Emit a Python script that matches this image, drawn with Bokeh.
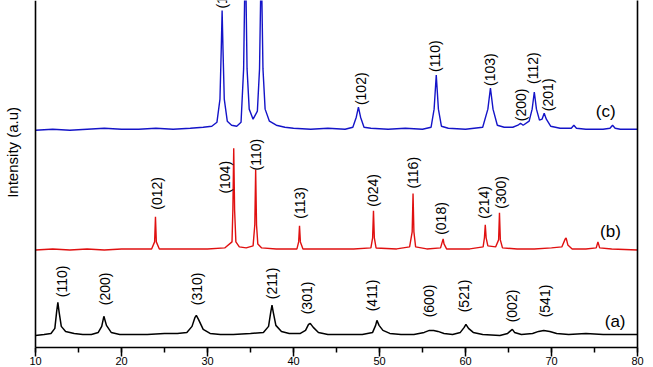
from math import pi
from bokeh.plotting import figure
from bokeh.models import (Range1d, LinearAxis, FixedTicker, SingleIntervalTicker,
                          Label, Span, ColumnDataSource, Grid)
from bokeh.core.properties import value
from bokeh.embed import file_html
from bokeh.resources import INLINE

# ---------------- data (2θ in degrees, intensity in a.u. with stacking offset) -------------
# (c) ZnO - blue
c_two_theta = [10, 12, 14, 16, 18, 20, 22, 24, 26, 28, 29.5, 30.5, 31.1, 31.45, 31.6, 31.7, 31.8, 31.95,
               32.3, 32.8, 33.4, 33.9, 34.2, 34.4, 34.6, 34.85, 35.3, 35.8, 36.05, 36.25, 36.45, 36.7,
               37.2, 38, 39, 40, 42, 44, 46, 46.9, 47.3, 47.55, 47.8, 48.2, 49, 51, 53, 55, 56.0, 56.35,
               56.6, 56.85, 57.2, 58, 60, 62.0, 62.6, 62.9, 63.2, 63.7, 64.5, 65.5, 66.1, 66.4, 66.7,
               67.4, 67.75, 68.0, 68.25, 68.6, 68.9, 69.15, 69.4, 69.9, 71, 72.3, 72.6, 72.9, 74, 76,
               76.8, 77.1, 77.4, 78, 80]
c_intensity = [219, 220, 219, 220, 221, 220, 220, 221, 220, 221, 222, 223, 227, 250, 300, 338, 300, 250,
               228, 224, 223, 227, 280, 400, 280, 240, 230, 238, 280, 390, 280, 240,
               228, 224, 222, 221, 220, 221, 220, 222, 232, 242, 232, 222, 221, 220, 221, 220, 222, 240,
               274, 240, 223, 221, 220, 222, 240, 261, 240, 224, 222, 222, 224, 226, 224,
               228, 240, 257, 240, 229, 230, 236, 230, 223, 221, 221, 224, 221, 220, 220,
               221, 224, 221, 220, 220]

# (b) α-Fe2O3 - red
b_two_theta = [10, 12, 14, 16, 18, 20, 22, 23.5, 23.85, 23.95, 24.05, 24.4, 27, 30, 32.0, 32.85, 32.95,
               33.05, 33.15, 33.3, 33.7, 34.5, 35.3, 35.5, 35.6, 35.7, 35.85, 36.3, 38, 40.4, 40.6,
               40.7, 40.8, 41.1, 44, 47, 49.0, 49.2, 49.3, 49.4, 49.6, 52, 53.5, 53.8, 53.9, 54.0,
               54.2, 55.5, 57.1, 57.3, 57.4, 57.5, 57.8, 60.5, 62.05, 62.2, 62.3, 62.4, 62.6, 63.5,
               63.85, 63.95, 64.05, 64.3, 66, 68, 70, 71.2, 71.6, 71.7, 71.9, 72.4, 74, 75.2, 75.4,
               75.6, 77, 80]
b_intensity = [100, 101, 100, 101, 100, 101, 101, 101, 108, 133, 108, 101, 101, 101, 102, 108, 140,
               201, 140, 108, 103, 102, 104, 125, 180, 125, 106, 102, 101, 101, 108,
               124, 108, 101, 101, 101, 102, 112, 139, 112, 102, 101, 103, 118, 156, 118,
               103, 101, 102, 108, 111, 106, 101, 101, 103, 112, 125, 112, 104, 103,
               110, 137, 110, 102, 101, 101, 102, 103, 111, 112, 105, 101, 101, 102, 108,
               102, 101, 100]

# (a) α-MnO2 - black
a_two_theta = [10, 11, 11.8, 12.25, 12.45, 12.6, 12.75, 13.0, 13.5, 14.5, 15.5, 16.5, 17.3, 17.7, 17.95,
               18.25, 18.8, 19.8, 21, 23, 25, 26.5, 27.6, 28.2, 28.55, 28.7, 28.95, 29.5, 30.3, 31.5,
               33, 35, 36.5, 37.1, 37.35, 37.5, 37.65, 37.95, 38.6, 39.5, 40.8, 41.4, 41.75, 41.95,
               42.3, 42.9, 44, 46, 48, 49.2, 49.55, 49.7, 49.95, 50.4, 51.2, 52.5, 54, 55.2, 55.8,
               56.3, 56.8, 57.5, 58.5, 59.4, 59.85, 60.05, 60.35, 60.9, 62, 64, 64.9, 65.3, 65.45,
               65.7, 66.5, 67.8, 68.5, 69.1, 69.8, 70.6, 72, 74, 76, 78, 80]
a_intensity = [15, 16, 17, 22, 38, 48, 38, 24, 19, 17, 16, 16, 18, 24, 34,
               25, 18, 16, 16, 16, 17, 17, 18, 24, 33, 35, 31, 21, 17, 16,
               16, 17, 18, 24, 38, 45, 38, 25, 19, 17, 17, 20, 26, 27,
               23, 18, 16, 16, 16, 18, 25, 30, 25, 20, 17, 16, 16, 18, 20,
               20, 19, 17, 16, 18, 23, 26, 22, 18, 16, 15, 17, 20, 21,
               18, 16, 17, 19, 20, 19, 17, 16, 17, 16, 16, 16]

# Miller-index labels: anchor (2θ, intensity at label start)
c_labels = ["(100)", "(102)", "(110)", "(103)", "(200)", "(112)", "(201)"]
c_label_x = [31.7, 47.85, 56.5, 62.9, 66.4, 67.9, 69.6]
c_label_y = [340, 244, 277, 263, 228, 265, 238]

b_labels = ["(012)", "(104)", "(110)", "(113)", "(024)", "(116)", "(018)", "(214)", "(300)"]
b_label_x = [24.07, 32.0, 35.65, 40.8, 49.3, 53.9, 57.2, 62.2, 64.1]
b_label_y = [140, 156, 179, 131, 143, 161, 115, 131, 141]

a_labels = ["(110)", "(200)", "(310)", "(211)", "(301)", "(411)", "(600)", "(521)", "(002)", "(541)"]
a_label_x = [13.1, 18.1, 28.8, 37.5, 41.6, 49.07, 55.76, 59.8, 65.4, 69.3]
a_label_y = [53, 45, 45, 51, 36, 39, 33, 38, 28, 33]

series_names = ["(c)", "(b)", "(a)"]
series_name_x = [76.3, 76.85, 77.4]
series_name_y = [238, 118, 29]

y_title = "Intensity (a.u)"
x_start, x_end = 10, 80

# ---------------- figure ----------------
FONT = "Liberation Sans"
LEFT_PAD_PX = 35                       # room left of the 2θ = 10 spine for the y title
px_per_deg = (637 - LEFT_PAD_PX) / (x_end - x_start)
p = figure(width=653, height=367, output_backend="svg", toolbar_location=None,
           x_range=Range1d(x_start - LEFT_PAD_PX / px_per_deg, x_end), y_range=Range1d(3, 348),
           x_axis_location=None, y_axis_location=None,
           min_border_left=0, min_border_right=16, min_border_top=0, min_border_bottom=0)
p.outline_line_color = None
p.background_fill_color = "white"
p.border_fill_color = "white"
for r in list(p.center):
    if isinstance(r, Grid):
        r.visible = False

xaxis = LinearAxis(ticker=SingleIntervalTicker(interval=10, num_minor_ticks=2))
xaxis.bounds = (x_start, x_end)
xaxis.axis_line_width = 1.6
xaxis.major_tick_line_width = 1.5
xaxis.minor_tick_line_width = 1.5
xaxis.major_tick_in = 0
xaxis.major_tick_out = 9
xaxis.minor_tick_in = 0
xaxis.minor_tick_out = 5
xaxis.major_label_standoff = 0
xaxis.major_label_text_font = FONT
xaxis.major_label_text_font_size = "11px"
xaxis.major_label_text_color = "black"
p.add_layout(xaxis, "below")

rax = LinearAxis(ticker=FixedTicker(ticks=[], minor_ticks=[]))
rax.axis_line_width = 1.6
rax.major_label_text_font_size = "0px"
p.add_layout(rax, "right")

p.add_layout(Span(location=x_start, dimension="height", line_color="black", line_width=1.6))

p.add_layout(Label(x=12, y=197, x_units="screen", y_units="data", text=y_title,
                   angle=pi / 2, text_align="center", text_baseline="middle",
                   text_font=FONT, text_font_size="15px", text_color="black"))

p.line(c_two_theta, c_intensity, line_color="#1414c8", line_width=1.4)
p.line(b_two_theta, b_intensity, line_color="#e01010", line_width=1.4)
p.line(a_two_theta, a_intensity, line_color="black", line_width=1.5)

for labs, lx, ly in ((c_labels, c_label_x, c_label_y),
                     (b_labels, b_label_x, b_label_y),
                     (a_labels, a_label_x, a_label_y)):
    src = ColumnDataSource(dict(x=lx, y=ly, t=labs))
    p.text(x="x", y="y", text="t", source=src, angle=pi / 2,
           text_align="left", text_baseline="middle",
           text_font=value(FONT), text_font_size="14px", text_color="black")

src = ColumnDataSource(dict(x=series_name_x, y=series_name_y, t=series_names))
p.text(x="x", y="y", text="t", source=src, text_align="center", text_baseline="middle",
       text_font=value(FONT), text_font_size="17px", text_color="black")

open("out.html", "w").write(file_html(p, INLINE))
